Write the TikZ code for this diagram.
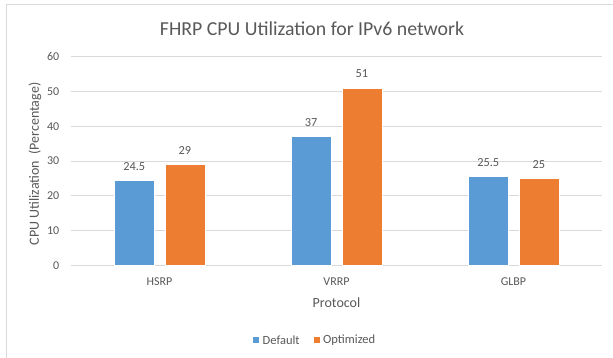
\documentclass[tikz,border=0pt]{standalone}
\usepackage{fontspec}
\setmainfont{Carlito}
\definecolor{barblue}{HTML}{5B9BD5}
\definecolor{barorange}{HTML}{ED7D31}
\definecolor{gridgray}{HTML}{D9D9D9}
\definecolor{txtgray}{HTML}{595959}
\definecolor{framegray}{HTML}{D9D9D9}
\tikzset{
  gridline/.style={draw=gridgray, line width=0.9pt},
  ticklbl/.style={text=txtgray, font=\fontsize{12}{13}\selectfont, inner sep=0pt},
  vallbl/.style={text=txtgray, font=\fontsize{12.3}{13}\selectfont, inner sep=0pt},
  axtitle/.style={text=txtgray, font=\fontsize{14}{15}\selectfont, inner sep=0pt},
  legtxt/.style={text=txtgray, font=\fontsize{12.5}{13}\selectfont, inner sep=0pt, anchor=west},
  bardef/.style={fill=barblue, draw=white, line width=0.6pt},
  baropt/.style={fill=barorange, draw=white, line width=0.6pt},
}
\begin{document}
\begin{tikzpicture}[x=1pt, y=-1pt]
\useasboundingbox (0,0) rectangle (613,358);
\fill[white] (0,0) rectangle (613,358);
% chart frame
\draw[framegray, line width=0.8pt] (6.5,358) -- (6.5,4.5) -- (613,4.5);
% title
\node[text=txtgray, font=\fontsize{19.8}{20}\selectfont, inner sep=0pt] (title) at (312,28.5) {FHRP CPU Utilization for IPv6 network};
% gridlines and tick labels
\foreach \v in {0,10,...,60} {
  \draw[gridline] (71,{265.3-3.477*\v}) -- (602,{265.3-3.477*\v});
  \node[ticklbl, anchor=east] (t\v) at (59.5,{265.3-3.477*\v}) {\v};
}
% bars
\foreach \c/\d/\o/\dl/\ol/\name in {159.5/24.5/29/24.5/29/HSRP, 336.5/37/51/37/51/VRRP, 513.5/25.5/25/25.5/25/GLBP} {
  \draw[bardef] ({\c-45.3},265.3) rectangle ({\c-5.3},{265.3-3.477*\d});
  \draw[baropt] ({\c+5.3},265.3) rectangle ({\c+45.3},{265.3-3.477*\o});
  \node[vallbl] (d\name) at ({\c-25.3},{265.3-3.477*\d-14}) {\dl};
  \node[vallbl] (o\name) at ({\c+25.3},{265.3-3.477*\o-14}) {\ol};
  \node[ticklbl] (c\name) at (\c,282) {\name};
}
% axis titles
\node[axtitle] (xtitle) at (336.5,302.5) {Protocol};
\node[axtitle, rotate=90] (ytitle) at (35,164) {CPU Utilization\ \ (Percentage)};
% legend
\fill[barblue] (253.3,337) rectangle (259.3,343);
\node[legtxt] (ldef) at (262.5,340) {Default};
\fill[barorange] (313.7,337) rectangle (319.7,343);
\node[legtxt] (lopt) at (323,340) {Optimized};
\end{tikzpicture}
\end{document}
